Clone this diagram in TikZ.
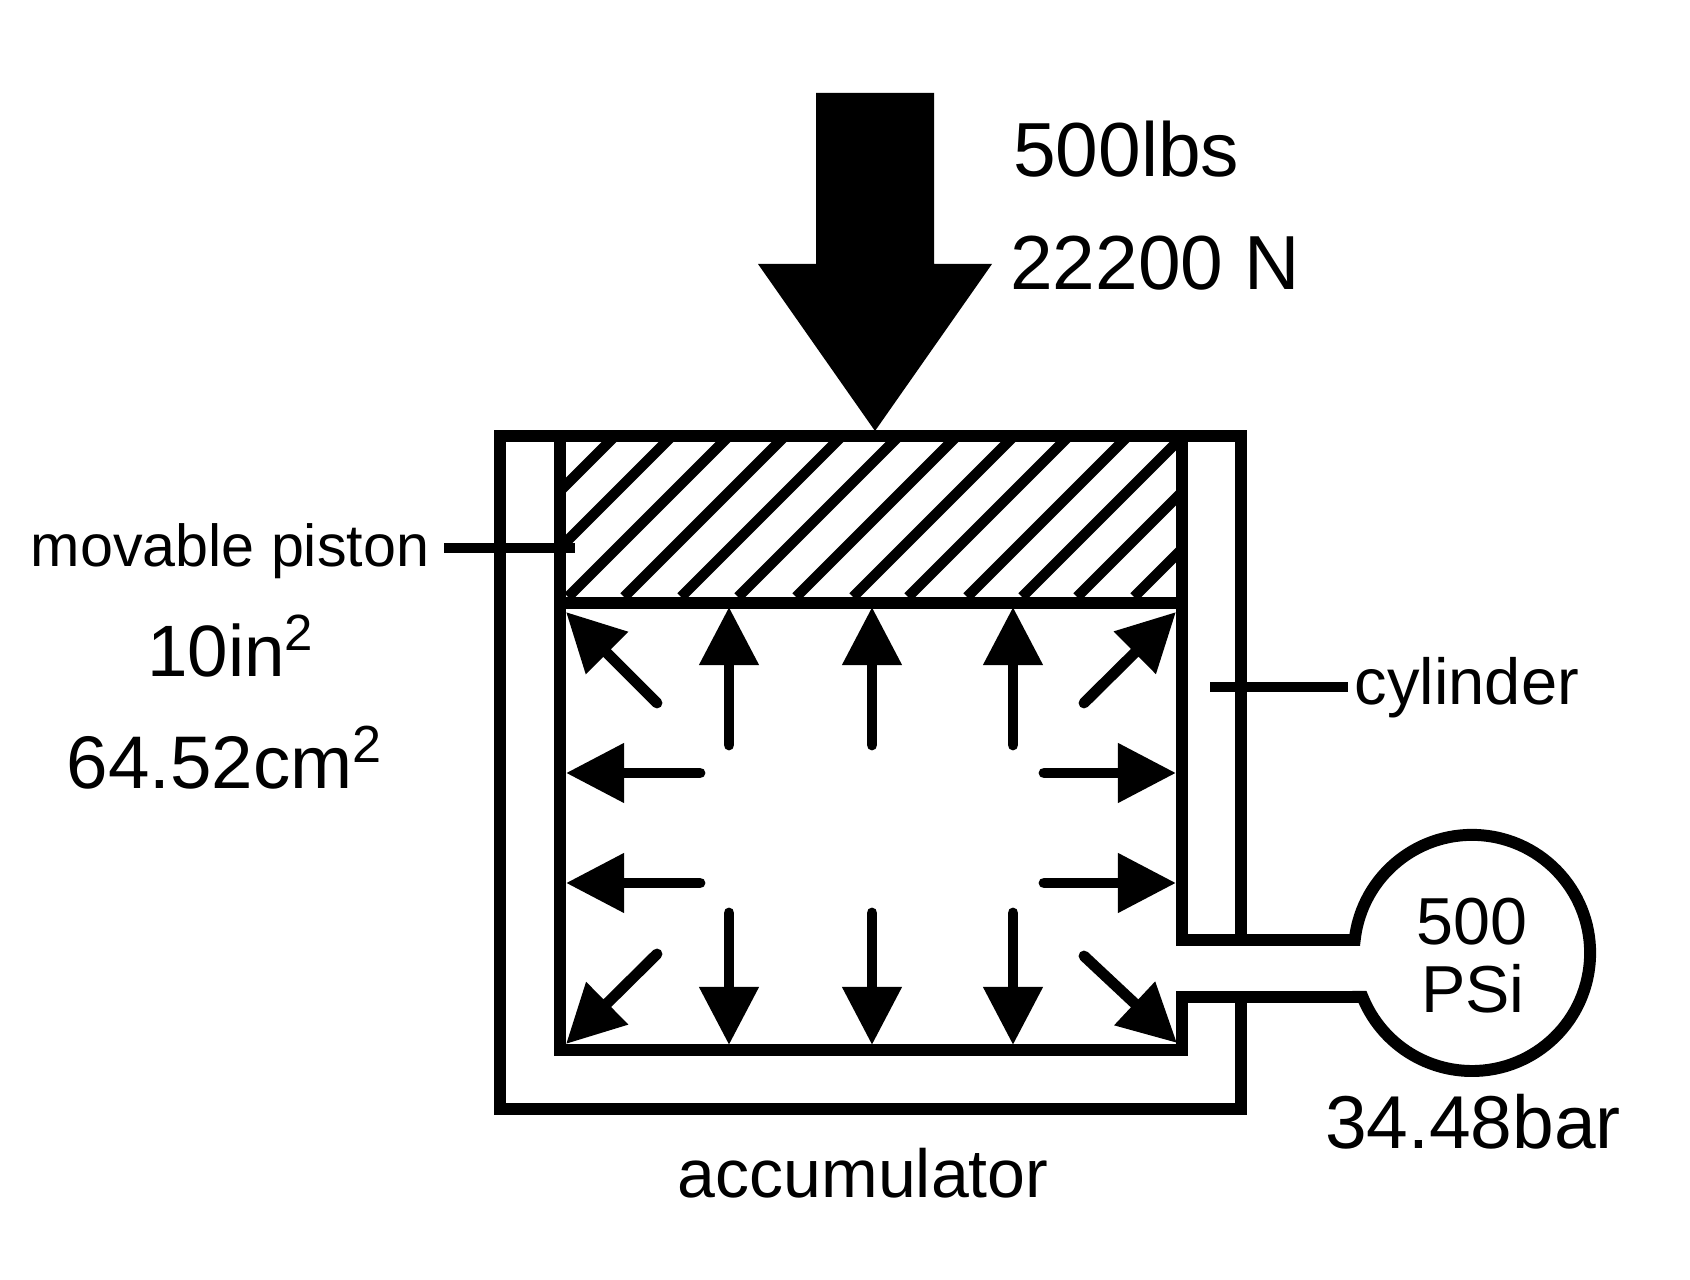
\documentclass[tikz,border=0pt]{standalone}
\usepackage{fontspec}
\setmainfont{Liberation Sans}
\usetikzlibrary{arrows.meta}

\tikzset{
    wall/.style={line width=3.4pt},
    hatchline/.style={line width=3pt},
    leader/.style={line width=3.1pt},
    press/.style={line width=3.1pt, line cap=round, -{Triangle[length=0.58cm, width=0.57cm]}},
    labeltext/.style={inner sep=0pt, anchor=base},
    leftlabel/.style={inner sep=0pt, anchor=base west}
}

\begin{document}
\begin{tikzpicture}[x=0.01cm, y=-0.01cm]
        \useasboundingbox (0,0) rectangle (1690,1280);

        \node at (1012.6,177) [leftlabel, font=\fontsize{21.8}{24}\selectfont] (force_lbs) {500lbs};
        \node at (1009.5,290) [leftlabel, font=\fontsize{21.8}{24}\selectfont] (force_n) {22200 N};
        \node at (30,567) [leftlabel, font=\fontsize{16.85}{20}\selectfont] (piston_label) {movable piston};
        \node at (231,677) [labeltext, font=\fontsize{20.7}{24}\selectfont] (area_in) {10in\textsuperscript{2}};
        \node at (225,789) [labeltext, font=\fontsize{21.2}{24}\selectfont] (area_cm) {64.52cm\textsuperscript{2}};
        \node at (1354,705) [leftlabel, font=\fontsize{18.5}{22}\selectfont] (cylinder_label) {cylinder};
        \node at (863,1198) [labeltext, font=\fontsize{19.35}{22}\selectfont] (accumulator_label) {accumulator};
        \node at (1472,945) [labeltext, font=\fontsize{18.9}{22}\selectfont] (gauge_top) {500};
        \node at (1473,1013) [labeltext, font=\fontsize{18.9}{22}\selectfont] (gauge_bot) {PSi};
        \node at (1473,1149) [labeltext, font=\fontsize{21.3}{24}\selectfont] (gauge_bar) {34.48bar};

        \coordinate (piston_a) at (444,548);
        \coordinate (piston_b) at (575,548);
        \coordinate (cylinder_a) at (1210,687);
        \coordinate (cylinder_b) at (1348,687);

        % load arrow
        \fill (816,93) -- (934,93) -- (934,264) -- (992,264) -- (875,431) -- (758,264) -- (816,264) -- cycle;

        % hatching of the piston
        \begin{scope}
            \clip (560,436) rectangle (1182,603);
            \draw[hatchline] (454,597) -- ++(200,-200);
            \draw[hatchline] (511,597) -- ++(200,-200);
            \draw[hatchline] (568,597) -- ++(200,-200);
            \draw[hatchline] (624,597) -- ++(200,-200);
            \draw[hatchline] (681,597) -- ++(200,-200);
            \draw[hatchline] (738,597) -- ++(200,-200);
            \draw[hatchline] (796,597) -- ++(200,-200);
            \draw[hatchline] (853,597) -- ++(200,-200);
            \draw[hatchline] (908,597) -- ++(200,-200);
            \draw[hatchline] (967,597) -- ++(200,-200);
            \draw[hatchline] (1022,597) -- ++(200,-200);
            \draw[hatchline] (1077,597) -- ++(200,-200);
            \draw[hatchline] (1134,597) -- ++(200,-200);
        \end{scope}

        % cylinder and gauge
        \draw[wall] (1241,940) -- (1241,436) -- (500,436) -- (500,1109) -- (1241,1109) -- (1241,997);
        \draw[wall] (1182,436) -- (1182,940) -- (1354.7,940)
            arc[start angle=173.7, end angle=-158.1, radius=1.18cm]
            -- (1182,997) -- (1182,1050) -- (560,1050) -- (560,436);
        \draw[wall] (560,603) -- (1182,603);

        \draw[leader] (piston_a) -- (piston_b);
        \draw[leader] (cylinder_a) -- (cylinder_b);

        % pressure arrows
        \draw[press] (729,745) -- (729,607);
        \draw[press] (872,745) -- (872,607);
        \draw[press] (1013,745) -- (1013,607);
        \draw[press] (657,703) -- (566,612);
        \draw[press] (1084,703) -- (1176,612);
        \draw[press] (700,773) -- (566,773);
        \draw[press] (700,883) -- (566,883);
        \draw[press] (1044,773) -- (1176,773);
        \draw[press] (1044,883) -- (1176,883);
        \draw[press] (657,954) -- (566,1044);
        \draw[press] (1084,956) -- (1177,1043);
        \draw[press] (729,913) -- (729,1045);
        \draw[press] (872,913) -- (872,1045);
        \draw[press] (1013,913) -- (1013,1045);
\end{tikzpicture}
\end{document}
